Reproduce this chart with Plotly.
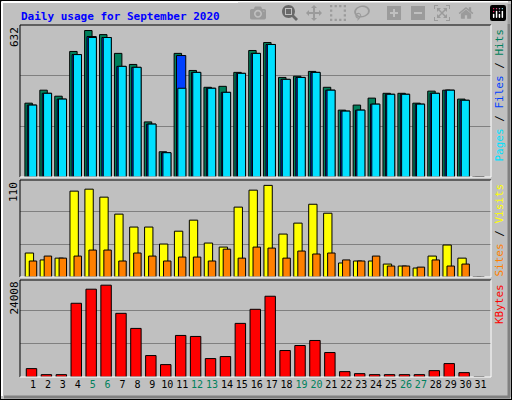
import plotly.graph_objects as go
from plotly.subplots import make_subplots

days = list(range(1, 32))
hits = [307, 361, 336, 522, 609, 592, 514, 468, 229, 105, 514, 443, 373, 377, 435,
        526, 559, 414, 419, 439, 373, 278, 299, 328, 348, 348, 307, 357, 361, 324, 0]
files = [299, 348, 324, 509, 584, 580, 460, 456, 220, 101, 505, 435, 369, 352, 431,
         514, 551, 406, 414, 435, 361, 274, 278, 303, 344, 344, 303, 348, 361, 319, 0]
pages = [299, 348, 324, 509, 580, 580, 460, 456, 220, 101, 369, 435, 369, 352, 431,
         514, 551, 406, 414, 435, 361, 274, 278, 303, 344, 344, 303, 348, 361, 319, 0]
visits = [26.7, 19, 21, 95.6, 97.8, 88.9, 70, 55.6, 55.6, 36.7, 51, 63.3, 37.8, 33.3, 77.8,
          96.7, 102, 47.8, 60, 81, 71, 15.6, 17.8, 17.8, 14.4, 12.2, 10, 23.3, 35.6, 21, 0]
sites = [17.8, 23.3, 21, 23.3, 30, 30, 17.8, 26.7, 23.3, 17.8, 22.2, 22.2, 17.8, 31, 21,
         33.3, 32.2, 21, 28.9, 25.6, 26.7, 19, 17.8, 23.3, 12.2, 12.2, 11, 19, 12.2, 14.4, 0]
kbytes = [2021, 566, 566, 17785, 21180, 22150, 15360, 11722, 5174, 2991, 10024, 9782, 4446,
          4931, 12934, 16330, 19482, 6386, 7599, 8812, 5901, 1293, 808, 566, 566, 566, 566,
          1536, 3234, 1051, 0]
weekend = {5, 6, 12, 13, 19, 20, 26, 27}
max_hits, max_visits, max_kb = 632, 110, 24008

BG = "#C0C0C0"
fig = make_subplots(rows=3, cols=1)
line = dict(color="black", width=1)

def bar(y, color, off, w, row):
    fig.add_trace(go.Bar(x=days, y=y, offset=off, width=w, marker=dict(color=color, line=line)),
                  row=row, col=1)

bar(hits, "#00805C", -0.54, 0.5, 1)
bar(files, "#0040FF", -0.38, 0.62, 1)
bar(pages, "#00E0FF", -0.29, 0.54, 1)
bar(visits, "#FFFF00", -0.52, 0.56, 2)
bar(sites, "#FF8000", -0.25, 0.5, 2)
bar(kbytes, "#FF0000", -0.45, 0.7, 3)

doms = [(0.5575, 0.9375), (0.3075, 0.55), (0.0575, 0.30)]
maxes = [max_hits, max_visits, max_kb]
ranges = [[0, 632], [0, 108], [0, 23400]]
for i in range(3):
    ax = "" if i == 0 else str(i + 1)
    fig.update_layout(**{
        "xaxis" + ax: dict(domain=[20 / 512, 491 / 512], range=[0.13, 31.7], showgrid=False,
                           zeroline=False, showticklabels=(i == 2), ticks="", tickangle=0,
                           tickvals=days,
                           ticktext=[f"<span style='color:#00805C'>{d}</span>" if d in weekend else str(d)
                                     for d in days],
                           tickfont=dict(family="DejaVu Sans Mono", size=10, color="black")),
        "yaxis" + ax: dict(domain=list(doms[i]), range=ranges[i], showticklabels=False,
                           tickvals=[maxes[i] / 3, maxes[i] * 2 / 3], gridcolor="#808080",
                           gridwidth=1, zeroline=False),
    })
    y0, y1 = doms[i]
    fig.add_shape(type="line", xref="paper", yref="paper", x0=20 / 512, x1=491 / 512, y0=y1, y1=y1,
                  line=dict(color="black", width=1))
    fig.add_shape(type="line", xref="paper", yref="paper", x0=20 / 512, x1=20 / 512, y0=y0, y1=y1,
                  line=dict(color="black", width=1))
    fig.add_shape(type="line", xref="paper", yref="paper", x0=20 / 512, x1=491 / 512, y0=y0, y1=y0,
                  line=dict(color="white", width=1))
    fig.add_shape(type="line", xref="paper", yref="paper", x0=491 / 512, x1=491 / 512, y0=y0, y1=y1,
                  line=dict(color="white", width=1))
    fig.add_annotation(text=str(maxes[i]), xref="paper", yref="paper", x=14 / 512, y=y1,
                       xanchor="center", yanchor="top", textangle=-90, showarrow=False,
                       font=dict(family="DejaVu Sans Mono", size=11, color="black"))

right = [
    "<span style='color:#00E0FF'>Pages</span> / <span style='color:#0040FF'>Files</span>"
    " / <span style='color:#00805C'>Hits</span>",
    "<span style='color:#FF8000'>Sites</span> / <span style='color:#FFFF00'>Visits</span>",
    "<span style='color:#FF0000'>KBytes</span>",
]
for i in range(3):
    fig.add_annotation(text=right[i], xref="paper", yref="paper", x=499 / 512, y=doms[i][1] - 0.005,
                       xanchor="center", yanchor="top", textangle=-90, showarrow=False,
                       font=dict(family="DejaVu Sans Mono", size=11, color="black"))

fig.add_annotation(text="<b>Daily usage for September 2020</b>", xref="paper", yref="paper",
                   x=19 / 512, y=1 - 8 / 400, xanchor="left", yanchor="top", showarrow=False,
                   font=dict(family="DejaVu Sans Mono", size=11, color="#0000FF"))

# outer bevel
fig.add_shape(type="rect", xref="paper", yref="paper", x0=0, x1=1, y0=0, y1=1,
              line=dict(color="black", width=2))
fig.add_shape(type="line", xref="paper", yref="paper", x0=2 / 512, x1=2 / 512, y0=4 / 400, y1=1 - 2 / 400,
              line=dict(color="white", width=2))
fig.add_shape(type="line", xref="paper", yref="paper", x0=2 / 512, x1=1 - 4 / 512, y0=1 - 2 / 400, y1=1 - 2 / 400,
              line=dict(color="white", width=2))
fig.add_shape(type="line", xref="paper", yref="paper", x0=4 / 512, x1=1 - 2 / 512, y0=3 / 400, y1=3 / 400,
              line=dict(color="#808080", width=3))
fig.add_shape(type="line", xref="paper", yref="paper", x0=1 - 3 / 512, x1=1 - 3 / 512, y0=3 / 400, y1=1 - 4 / 400,
              line=dict(color="#808080", width=3))

fig.update_layout(width=512, height=400, margin=dict(l=0, r=0, t=0, b=0), barmode="overlay",
                  showlegend=False, paper_bgcolor=BG, plot_bgcolor=BG)
fig.write_html("out.html", post_script="document.body.style.margin='0';")
